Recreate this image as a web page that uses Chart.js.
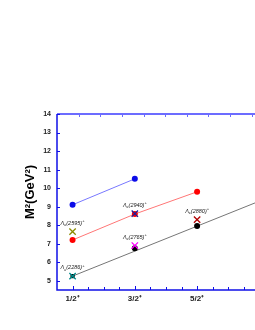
<!DOCTYPE html>
<html>
<head>
<meta charset="UTF-8">
<title>Regge trajectories</title>
<script src="https://cdn.jsdelivr.net/npm/chart.js"></script>
<style>
    body { margin: 0; background: #fff; }
    .wrap { width: 255px; height: 330px; position: relative; }
</style>
</head>
<body>
<div class="wrap"><canvas id="regge"></canvas></div>
<script>
// J values and tick labels
const xTickVals = [0.5, 1.5, 2.5];
const xTickLabels = ['1/2⁺', '3/2⁺', '5/2⁺'];
const yTickVals = [5, 6, 7, 8, 9, 10, 11, 12, 13, 14];

// trajectories (M^2 in GeV^2)
const blueJ = [0.5, 1.5];
const blueM = [9.1, 10.5];
const redJ = [0.5, 1.5, 2.5];
const redM = [7.2, 8.6, 9.8];
const blackJ = [0.5, 1.5, 2.5];
const blackM = [5.25, 6.75, 7.95];
// straight fit drawn through the black points
const fitJ = [0.5, 3.43];
const fitM = [5.25, 9.2];

// observed states
const stateNames = ['2286', '2595', '2765', '2940', '2880'];
const stateJ = [0.5, 0.5, 1.5, 1.5, 2.5];
const stateM = [5.25, 7.65, 6.9, 8.62, 8.3];
const stateColors = ['#008b8b', '#8b8b00', '#ff00ff', '#1c1c9c', '#b00000'];

function pts(xs, ys) { return xs.map((x, i) => ({ x: x, y: ys[i] })); }

const axisBlue = '#1010e8';

const framePlugin = {
    id: 'frame',
    afterDraw(chart) {
        const ctx = chart.ctx;
        const a = chart.chartArea;
        const xs = chart.scales.x, ys = chart.scales.y;
        ctx.save();
        // top axis (lighter, thicker)
        ctx.strokeStyle = '#6c6cff';
        ctx.lineWidth = 2;
        ctx.beginPath(); ctx.moveTo(a.left, a.top); ctx.lineTo(a.right, a.top); ctx.stroke();
        ctx.lineWidth = 1;
        for (let v = 0.6; v < 3.45; v += 0.347) {
            const px = Math.round(xs.getPixelForValue(v)) + 0.5;
            ctx.beginPath(); ctx.moveTo(px, a.top); ctx.lineTo(px, a.top + 3); ctx.stroke();
        }
        // left & bottom axes
        ctx.strokeStyle = axisBlue;
        ctx.lineWidth = 1.5;
        ctx.beginPath();
        ctx.moveTo(a.left, a.top); ctx.lineTo(a.left, a.bottom); ctx.lineTo(a.right, a.bottom);
        ctx.stroke();
        ctx.lineWidth = 1;
        yTickVals.forEach(v => {
            const py = Math.round(ys.getPixelForValue(v)) + 0.5;
            ctx.beginPath(); ctx.moveTo(a.left, py); ctx.lineTo(a.left + 3, py); ctx.stroke();
        });
        for (let v = 0.5; v < 3.45; v += 0.25) {
            const px = Math.round(xs.getPixelForValue(v)) + 0.5;
            const major = xTickVals.includes(v);
            ctx.beginPath(); ctx.moveTo(px, a.bottom); ctx.lineTo(px, a.bottom - (major ? 4 : 3)); ctx.stroke();
        }
        // state labels
        ctx.fillStyle = '#222';
        ctx.textBaseline = 'alphabetic';
        stateNames.forEach((n, i) => {
            const px = xs.getPixelForValue(stateJ[i]);
            const py = ys.getPixelForValue(stateM[i]) - 7;
            const big = 'italic 5.5px Arial';
            const small = 'italic 4px Arial';
            ctx.font = big; const w1 = ctx.measureText('Λ').width;
            const w3 = ctx.measureText('(' + n + ')').width;
            ctx.font = small; const w2 = ctx.measureText('c').width;
            const w4 = ctx.measureText('+').width;
            let x = px - (w1 + w2 + w3 + w4) / 2;
            ctx.font = big; ctx.fillText('Λ', x, py); x += w1;
            ctx.font = small; ctx.fillText('c', x, py + 1.5); x += w2;
            ctx.font = big; ctx.fillText('(' + n + ')', x, py); x += w3;
            ctx.font = small; ctx.fillText('+', x, py - 2.5);
        });
        // y title
        ctx.translate(30, 192);
        ctx.rotate(-Math.PI / 2);
        ctx.fillStyle = '#000';
        ctx.font = 'bold 13px Arial';
        ctx.textAlign = 'center';
        ctx.textBaseline = 'middle';
        ctx.fillText('M²(GeV²)', 0, 0);
        ctx.restore();
    }
};

new Chart(document.getElementById('regge'), {
    type: 'scatter',
    data: {
        datasets: [
            {
                data: pts(fitJ, fitM), showLine: true, borderColor: '#767676', borderWidth: 1,
                pointRadius: 0, order: 3
            },
            {
                data: pts(blueJ, blueM), showLine: true, borderColor: '#7878ff', borderWidth: 1,
                pointRadius: 3, pointBackgroundColor: '#0c0ce8', pointBorderWidth: 0, order: 2
            },
            {
                data: pts(redJ, redM), showLine: true, borderColor: '#ff7676', borderWidth: 1,
                pointRadius: 3, pointBackgroundColor: '#ff0000', pointBorderWidth: 0, order: 2
            },
            {
                data: pts(blackJ, blackM), showLine: false,
                pointRadius: 3, pointBackgroundColor: '#000', pointBorderWidth: 0,
                pointStyle: ['rect', 'circle', 'circle'], order: 1
            },
            {
                data: pts(stateJ, stateM), showLine: false,
                pointStyle: 'crossRot', pointRadius: 4.5, borderWidth: 1.3,
                borderColor: stateColors, backgroundColor: stateColors, order: 0
            }
        ]
    },
    options: {
        responsive: true,
        maintainAspectRatio: false,
        animation: false,
        layout: { autoPadding: false, padding: { top: 114, left: 0, right: 0, bottom: 0 } },
        plugins: { legend: { display: false }, tooltip: { enabled: false } },
        scales: {
            x: {
                type: 'linear', min: 0.25, max: 3.43,
                grid: { display: false, drawTicks: false },
                border: { display: false },
                afterBuildTicks: s => { s.ticks = xTickVals.map(v => ({ value: v })); },
                afterFit: s => { s.height = 40; },
                ticks: {
                    padding: 4, color: '#222',
                    font: { family: 'Arial', size: 8, weight: 'bold' },
                    callback: (v) => xTickLabels[xTickVals.indexOf(v)]
                }
            },
            y: {
                min: 4.5, max: 14,
                grid: { display: false, drawTicks: false },
                border: { display: false },
                afterBuildTicks: s => { s.ticks = yTickVals.map(v => ({ value: v })); },
                afterFit: s => { s.width = 57; },
                ticks: {
                    padding: 6, color: '#222',
                    font: { family: 'Arial', size: 7, weight: 'bold' }
                }
            }
        }
    },
    plugins: [framePlugin]
});
</script>
</body>
</html>
